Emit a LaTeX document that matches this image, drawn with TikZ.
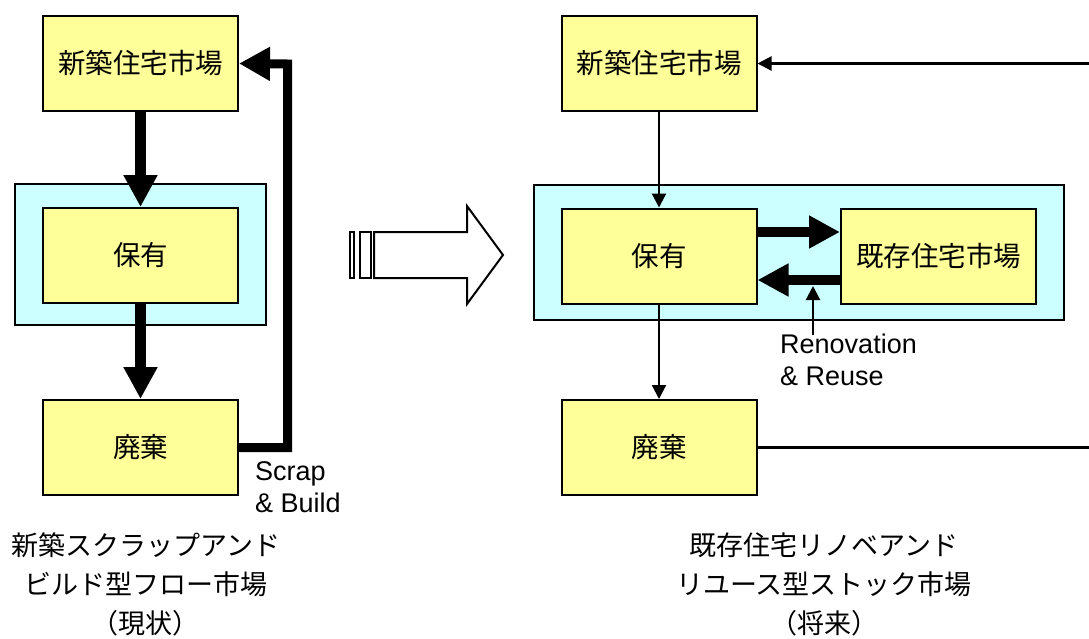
\documentclass[tikz,border=0pt]{standalone}
\usepackage{fontspec}
\setmainfont{Liberation Sans}
\newfontfamily\jp{Noto Sans CJK JP}
\usetikzlibrary{arrows.meta}
\definecolor{boxyellow}{HTML}{FFFF99}
\definecolor{stockcyan}{HTML}{CCFFFF}
\begin{document}
\begin{tikzpicture}[x=1pt,y=-1pt,
  box/.style={draw=black, line width=2pt, fill=boxyellow, minimum width=195pt,
    minimum height=95pt, inner sep=0pt, font=\jp\fontsize{27.5}{32}\selectfont},
  stock/.style={draw=black, line width=2pt, fill=stockcyan, inner sep=0pt},
  thinarrow/.style={line width=2.2pt, -{Triangle[length=14pt,width=14pt]}},
  thinline/.style={line width=2.2pt},
  thickdown/.style={line width=11pt, -{Triangle[length=32pt,width=32pt]}},
  thickside/.style={line width=10pt, -{Triangle[length=31pt,width=31pt]}},
  scrapline/.style={line width=9pt, line join=miter, -{Triangle[length=31pt,width=32pt]}},
  label/.style={inner sep=0pt, anchor=north west, align=left, font=\fontsize{27}{32}\selectfont},
  caption/.style={inner sep=0pt, align=center, font=\jp\fontsize{27}{39}\selectfont},
  hollow/.style={draw=black, line width=2pt, fill=white, line join=miter}
]
\useasboundingbox (0,0) rectangle (1089,638);

% ---------- left: current ----------
\node[stock, minimum width=251pt, minimum height=141pt] (stockL) at (140.5,254.5) {};
\node[box] (newL) at (140.5,63.5) {新築住宅市場};
\node[box] (ownL) at (140.5,255.5) {保有};
\node[box] (wasteL) at (140.5,447.5) {廃棄};
\coordinate (sbtop) at (287.5,64);
\draw[thickdown] (newL.south) -- (ownL.north);
\draw[thickdown] (ownL.south) -- (wasteL.north);
\draw[scrapline] (wasteL.east) -| (sbtop) -- (newL.east);
\node[label] (sblabel) at (255,461) {Scrap\\\& Build};
\node[caption] (capL) at (146,584) {新築スクラップアンド\\ビルド型フロー市場\\（現状）};

% ---------- middle: transition arrow ----------
\draw[hollow] (350,232) rectangle (354,278);
\draw[hollow] (360,232) rectangle (371,278);
\draw[hollow] (374,232) -- (467,232) -- (467,206) -- (503,255) -- (467,304)
  -- (467,278) -- (374,278) -- cycle;

% ---------- right: future ----------
\node[stock, minimum width=530pt, minimum height=135pt] (stockR) at (799,252.5) {};
\node[box] (newR) at (659,63.5) {新築住宅市場};
\node[box] (ownR) at (659,256) {保有};
\node[box] (wasteR) at (659,447.5) {廃棄};
\node[box] (usedR) at (938.5,256) {既存住宅市場};
\coordinate (rtop) at (1089,63.5);
\coordinate (rbot) at (1089,447.5);
\coordinate (renov) at (813,335);
\coordinate (renovtip) at (813,286);
\draw[thinarrow] (rtop) -- (newR.east);
\draw[thinline] (wasteR.east) -- (rbot);
\draw[thinarrow] (newR.south) -- (ownR.north);
\draw[thinarrow] (ownR.south) -- (wasteR.north);
\draw[thickside] ([yshift=24pt]ownR.east) -- ([yshift=24pt]usedR.west);
\draw[thickside] ([yshift=-24pt]usedR.west) -- ([yshift=-24pt]ownR.east);
\draw[thinarrow] (renov) -- (renovtip);
\node[label] (rrlabel) at (780,334) {Renovation\\\& Reuse};
\node[caption] (capR) at (824,584) {既存住宅リノベアンド\\リユース型ストック市場\\（将来）};
\end{tikzpicture}
\end{document}
